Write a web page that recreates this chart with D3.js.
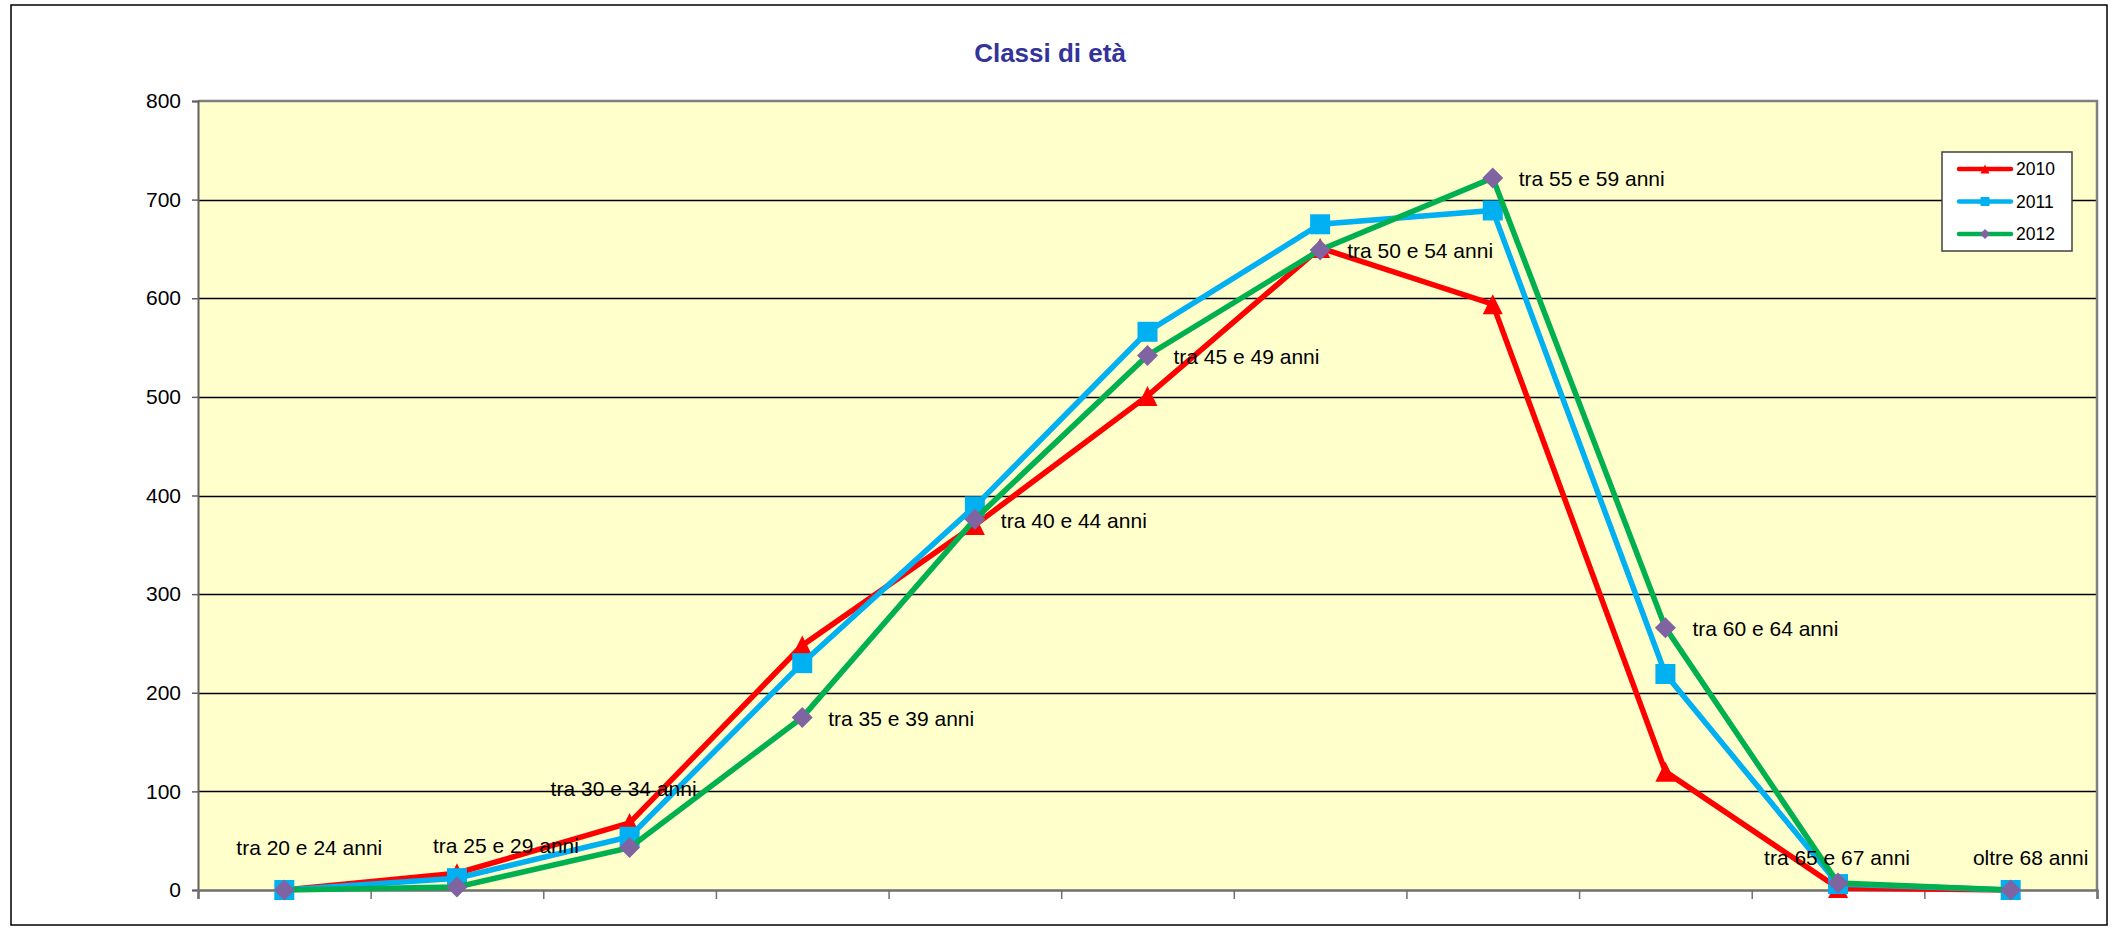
<!DOCTYPE html>
<html>
<head>
<meta charset="utf-8">
<script src="https://cdn.jsdelivr.net/npm/d3@7"></script>
<style>
  html, body { margin: 0; padding: 0; background: #fff; }
  svg { display: block; }
  text { font-family: "Liberation Sans", Arial, sans-serif; }
</style>
</head>
<body>
<svg id="chart" width="2115" height="929"></svg>
<script>
// ---- data ----
const categories = ["tra 20 e 24 anni", "tra 25 e 29 anni", "tra 30 e 34 anni", "tra 35 e 39 anni",
  "tra 40 e 44 anni", "tra 45 e 49 anni", "tra 50 e 54 anni", "tra 55 e 59 anni",
  "tra 60 e 64 anni", "tra 65 e 67 anni", "oltre 68 anni"];
const seriesNames = ["2010", "2011", "2012"];
const values2010 = [0, 17, 68, 248, 370, 501, 651, 594, 120, 2, 0];
const values2011 = [0, 12, 54, 230, 389, 566, 675, 689, 219, 6, 0];
const values2012 = [0, 3, 43, 175, 376, 542, 649, 722, 266, 7, 0];
const yTicks = [0, 100, 200, 300, 400, 500, 600, 700, 800];
const titleText = "Classi di età";

// ---- styles ----
const seriesStyle = [
  { line: "#FF0000", fill: "#FF0000", shape: "triangle" },
  { line: "#00B0F0", fill: "#00B0F0", shape: "square" },
  { line: "#00B050", fill: "#8064A2", shape: "diamond" }
];
// label placement for the 2012 data labels: [dx, dy, anchor]
const labelPlacement = [
  [25, -42, "middle"], [49, -41, "middle"], [-6, -59, "middle"], [26, 1, "start"],
  [26, 1, "start"], [26, 1, "start"], [27, 1, "start"], [26, 1, "start"],
  [27, 1, "start"], [-1, -25, "middle"], [20, -32, "middle"]
];

const svg = d3.select("#chart");
const plot = { left: 198, right: 2097, top: 101, bottom: 890 };

// outer frame
svg.append("rect").attr("x", 11).attr("y", 5).attr("width", 2096).attr("height", 920)
  .attr("fill", "#fff").attr("stroke", "#000").attr("stroke-width", 1.5);

// title
svg.append("text").attr("x", 1050).attr("y", 62).attr("text-anchor", "middle")
  .attr("font-size", 26).attr("font-weight", "bold").attr("fill", "#333399").text(titleText);

const x = d3.scaleBand().domain(categories).range([plot.left, plot.right]).padding(0);
const y = d3.scaleLinear().domain([0, 800]).range([plot.bottom, plot.top]);
const cx = c => x(c) + x.bandwidth() / 2;

// plot background
svg.append("rect").attr("x", plot.left).attr("y", plot.top)
  .attr("width", plot.right - plot.left).attr("height", plot.bottom - plot.top)
  .attr("fill", "#FFFFCC");

// gridlines
svg.append("g").selectAll("line").data(yTicks.filter(t => t > 0 && t < 800)).join("line")
  .attr("x1", plot.left).attr("x2", plot.right)
  .attr("y1", d => Math.round(y(d)) + 0.5).attr("y2", d => Math.round(y(d)) + 0.5)
  .attr("stroke", "#000").attr("stroke-width", 1.3);

// plot border top & right
svg.append("path")
  .attr("d", `M${plot.left},${plot.top}H${plot.right}V${plot.bottom}`)
  .attr("fill", "none").attr("stroke", "#808080").attr("stroke-width", 2.5);

// y axis
const yAxis = svg.append("g").attr("transform", `translate(${plot.left},0)`)
  .call(d3.axisLeft(y).tickValues(yTicks).tickSize(6).tickPadding(11));
yAxis.select(".domain").attr("stroke", "#606060").attr("stroke-width", 2);
yAxis.selectAll(".tick line").attr("stroke", "#606060").attr("stroke-width", 1.5);
yAxis.selectAll("text").attr("font-size", 21).attr("fill", "#000")
  .attr("font-family", "'Liberation Sans', Arial, sans-serif");

// x axis (ticks at category boundaries, no labels)
const xEdges = d3.scaleLinear().domain([0, categories.length]).range([plot.left, plot.right]);
const xAxis = svg.append("g").attr("transform", `translate(0,${plot.bottom})`)
  .call(d3.axisBottom(xEdges).tickValues(d3.range(categories.length + 1)).tickSize(9).tickFormat(""));
xAxis.select(".domain").attr("stroke", "#707070").attr("stroke-width", 2.5);
xAxis.selectAll(".tick line").attr("stroke", "#707070").attr("stroke-width", 1.5);

// series
const allValues = [values2010, values2011, values2012];
function markerPath(shape, s) {
  const h = s / 2;
  if (shape === "triangle") return `M0,${-h}L${h},${h}L${-h},${h}Z`;
  if (shape === "square") return `M${-h},${-h}H${h}V${h}H${-h}Z`;
  return `M0,${-h}L${h},0L0,${h}L${-h},0Z`;
}
const line = d3.line().x((d, i) => cx(categories[i])).y(d => y(d));

allValues.forEach((vals, si) => {
  const st = seriesStyle[si];
  const g = svg.append("g");
  g.append("path").datum(vals).attr("d", line)
    .attr("fill", "none").attr("stroke", st.line).attr("stroke-width", 5.5)
    .attr("stroke-linejoin", "miter");
  g.selectAll("path.m").data(vals).join("path").attr("class", "m")
    .attr("transform", (d, i) => `translate(${cx(categories[i])},${y(d)})`)
    .attr("d", markerPath(st.shape, st.shape === "diamond" ? 21 : 20))
    .attr("fill", st.fill);
});

// data labels (category names) on the 2012 series
svg.append("g").selectAll("text").data(values2012).join("text")
  .attr("x", (d, i) => cx(categories[i]) + labelPlacement[i][0])
  .attr("y", (d, i) => y(d) + labelPlacement[i][1])
  .attr("dy", "0.35em")
  .attr("text-anchor", (d, i) => labelPlacement[i][2])
  .attr("font-size", 21).attr("fill", "#000")
  .text((d, i) => categories[i]);

// legend
const lg = svg.append("g");
lg.append("rect").attr("x", 1942).attr("y", 152).attr("width", 130).attr("height", 99)
  .attr("fill", "#fff").attr("stroke", "#404040").attr("stroke-width", 1.5);
seriesNames.forEach((name, i) => {
  const st = seriesStyle[i];
  const yy = 169 + i * 32.5;
  lg.append("line").attr("x1", 1959).attr("x2", 2011).attr("y1", yy).attr("y2", yy)
    .attr("stroke", st.line).attr("stroke-width", 4.5).attr("stroke-linecap", "round");
  lg.append("path").attr("transform", `translate(1985,${yy})`)
    .attr("d", markerPath(st.shape, st.shape === "diamond" ? 10 : 9)).attr("fill", st.fill);
  lg.append("text").attr("x", 2016).attr("y", yy).attr("dy", "0.36em")
    .attr("font-size", 17.5).attr("fill", "#000").text(name);
});
</script>
</body>
</html>
